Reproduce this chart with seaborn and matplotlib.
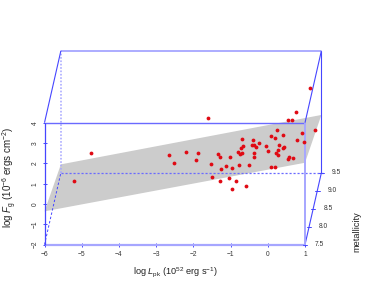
import matplotlib
matplotlib.use("Agg")
import matplotlib.pyplot as plt
import numpy as np
import pandas as pd
import seaborn as sns
from matplotlib.patches import Polygon

sns.set_theme(style="white")
plt.rcParams['font.family'] = ['Liberation Sans', 'DejaVu Sans']
plt.rcParams['mathtext.fontset'] = 'custom'
plt.rcParams['mathtext.rm'] = 'Liberation Sans'
plt.rcParams['mathtext.it'] = 'Liberation Sans:italic'

# Points as projected on the oblique view, in front-plane axis units
log_lpk = [-4.76,-2.65,-2.52,-2.19,-5.21,1.13,-1.61,0.75,0.53,0.66,1.26,0.25,0.92,0.40,0.09,
           0.20,-0.70,-0.40,0.79,0.97,-0.23,-0.42,-0.38,-0.04,0.29,-0.31,-0.67,-0.71,0.40,0.44,
           0.28,0.01,0.21,0.28,-0.79,-0.68,-0.76,-0.38,-0.37,-1.88,-1.92,-1.35,-1.28,-1.01,0.57,
           0.53,0.69,-1.53,-0.78,-0.51,-1.11,-1.26,-0.96,0.09,0.19,-1.49,-1.05,-1.29,-0.85,-0.97,-0.58]
log_f = [2.50,2.40,2.02,2.54,1.15,5.69,4.25,4.51,4.15,4.12,3.64,3.66,3.51,3.40,3.33,
         3.26,3.21,3.15,3.14,3.05,2.99,2.90,2.90,2.87,2.92,2.81,2.85,2.77,2.77,2.81,
         2.66,2.61,2.53,2.41,2.56,2.53,2.46,2.53,2.31,2.50,2.18,2.48,2.31,2.31,2.30,
         2.20,2.25,1.98,1.94,1.94,1.87,1.74,1.77,1.82,1.84,1.34,1.30,1.15,1.15,0.74,0.89]

x_ticks = [-6,-5,-4,-3,-2,-1,0,1]
y_ticks = [-2,-1,0,1,2,3,4]
z_ticks = [7.5,8.0,8.5,9.0,9.5]
plane_x = [-6,-6,1,1]
plane_z = [7.5,9.5,9.5,7.5]
plane_y = [-0.36,-1.59,0.84,2.03]

W, H = 374, 307
L, R, T, B = 44.5, 305.0, 122.7, 244.7
X0, X1, Y0, Y1, Z0, Z1 = -6, 1, -2, 4, 7.5, 9.5
DX = 16.4 / ((R-L)/7) / (Z1-Z0)
DY = 72.0 / ((B-T)/6) / (Z1-Z0)

def proj(x, y, z):
    return x + (z-Z0)*DX, y + (z-Z0)*DY

BLUE = "#4646ff"
LIGHT = "#a6a6ff"

fig = plt.figure(figsize=(W/100, H/100), dpi=100, facecolor="white")
ax = fig.add_axes([L/W, 1-B/H, (R-L)/W, (B-T)/H], facecolor="none")
ax.set_xlim(X0, X1)
ax.set_ylim(Y0, Y1)

px, py = proj(np.array(plane_x), np.array(plane_y), np.array(plane_z))
ax.add_patch(Polygon(np.column_stack([px, py]), closed=True, fc="#cccccc", ec="none",
                     clip_on=False, zorder=1))

def seg(p, q, **kw):
    a = proj(*p); b = proj(*q)
    ax.plot([a[0], b[0]], [a[1], b[1]], clip_on=False, solid_capstyle="butt", **kw)

# hidden back edges
seg((X0,Y0,Z1),(X0,Y1,Z1), color=LIGHT, lw=1.1, ls=(0,(1.1,1.1)), zorder=2)
seg((X0,Y0,Z0),(X0,Y0,Z1), color=BLUE, lw=0.7, ls=(0,(2.5,2)), zorder=2)
a = proj(X0,Y0,Z1); b = proj(X1,Y0,Z1)
ax.plot([a[0], b[0]+0.1],[a[1], b[1]], color="#6a6aff", lw=0.9, ls=(0,(1.7,1.5)),
        clip_on=False, zorder=2)
# outer edges
seg((X0,Y1,Z1),(X1,Y1,Z1), color=LIGHT, lw=1.3, zorder=3)
seg((X0,Y1,Z0),(X0,Y1,Z1), color=BLUE, lw=0.8, zorder=3)
seg((X1,Y1,Z0),(X1,Y1,Z1), color=BLUE, lw=0.8, zorder=3)
seg((X1,Y0,Z1),(X1,Y1,Z1), color=BLUE, lw=0.8, zorder=3)
seg((X1,Y0,Z0),(X1,Y0,Z1), color=BLUE, lw=0.8, zorder=3)
seg((X0,Y1,Z0),(X1,Y1,Z0), color="#6a6aff", lw=1.0, zorder=3)
seg((X1,Y0,Z0),(X1,Y1,Z0), color=LIGHT, lw=1.4, zorder=3)
seg((X0,Y0,Z0),(X1,Y0,Z0), color=LIGHT, lw=1.6, zorder=3)
seg((X0,Y0,Z0),(X0,Y1,Z0), color=BLUE, lw=0.9, zorder=3)

df = pd.DataFrame({"x": log_lpk, "y": log_f})
sns.scatterplot(data=df, x="x", y="y", ax=ax, color="#e00a14", s=7.5, linewidth=0,
                clip_on=False, zorder=5, legend=False)

for s in ax.spines.values():
    s.set_visible(False)
ax.set_xticks(x_ticks)
ax.set_yticks(y_ticks)
ax.set_xticklabels([str(v).replace("-", "\u2212") for v in x_ticks])
ax.set_yticklabels([str(v).replace("-", "\u2212") for v in y_ticks], rotation=90, va="center")
ax.tick_params(axis="both", direction="inout", length=3.0, width=0.7, color="#4646ff",
               labelsize=4.8, labelcolor="#333333", pad=3.2, bottom=True, left=True, zorder=4)
ax.tick_params(axis="y", pad=2.8)
ax.set_xlabel("")
ax.set_ylabel("")

# metallicity axis ticks
for z in z_ticks:
    tx, ty = proj(X1, Y0, z)
    ax.plot([tx-0.06, tx+0.06], [ty, ty], color=BLUE, lw=0.7, clip_on=False, zorder=3)
    ax.annotate(f"{z:.1f}", (tx, ty), xytext=(14.7*0.72, 0), textcoords="offset points",
                ha="center", va="center", fontsize=4.8, color="#333333", annotation_clip=False)

fig.text(175.5/W, 1-271.7/H, r"log $\mathit{L}_{\mathrm{pk}}$ (10$^{52}$ erg s$^{-1}$)",
         ha="center", va="center", fontsize=6.6, color="#222222")
fig.text(9.5/W, 1-178/H, r"log $\mathit{F}_{\mathrm{g}}$ (10$^{-6}$ ergs cm$^{-2}$)",
         rotation=90, ha="center", va="center", fontsize=7.0, color="#222222")
fig.text(356.5/W, 1-232/H, "metallicity", rotation=90, ha="center", va="center",
         fontsize=6.6, color="#222222")

fig.savefig("out.png", dpi=100, facecolor="white")
